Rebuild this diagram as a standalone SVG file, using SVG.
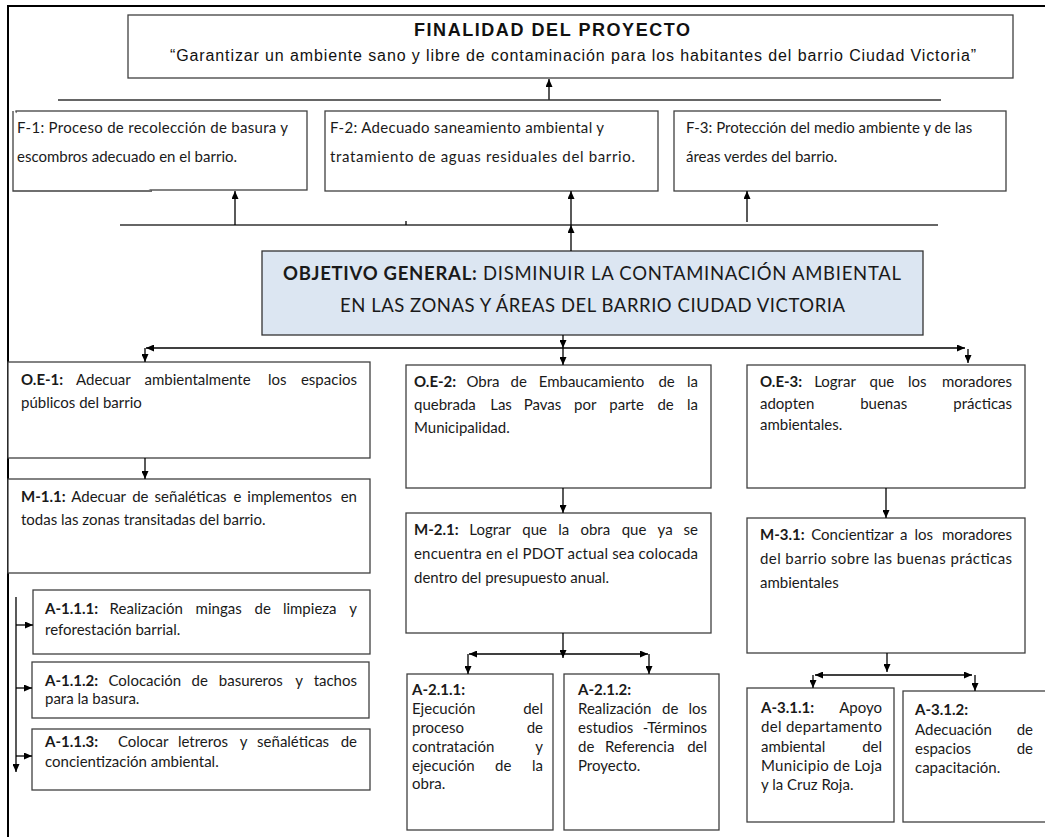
<svg xmlns="http://www.w3.org/2000/svg" width="1045" height="837" viewBox="0 0 1045 837">
<defs>
<style>
.box{fill:#fff;stroke:#404040;stroke-width:1.3}
.obj{fill:#dce6f2;stroke:#333;stroke-width:1.3}
.t{font-family:Lato,"Open Sans",sans-serif;font-size:15px;fill:#1a1a1a}
.a{font-family:"Liberation Sans",Arial,sans-serif;font-size:16px;fill:#111}
.b{font-weight:bold}
.e{text-anchor:end}
.c{stroke:#000;stroke-width:1.3;fill:none}
.bar{stroke:#333;stroke-width:1.6;fill:none}
</style>
<marker id="ah" viewBox="0 0 8 7" refX="8" refY="3.5" markerWidth="8" markerHeight="7" markerUnits="userSpaceOnUse" orient="auto"><path d="M0,0L8,3.5L0,7z" fill="#000"/></marker>
</defs>
<rect width="1045" height="837" fill="#fff"/>
<path d="M8,837V6H1045" stroke="#000" stroke-width="2" fill="none"/>

<g id="finalidad">
<rect class="box" x="128" y="15" width="885" height="63"/>
<text class="a b" x="552" y="36" text-anchor="middle" style="font-size:18px" textLength="276">FINALIDAD DEL PROYECTO</text>
<text class="a" x="573" y="61" text-anchor="middle" textLength="806">“Garantizar un ambiente sano y libre de contaminación para los habitantes del barrio Ciudad Victoria”</text>
</g>

<g id="f1">
<rect class="box" x="16" y="111" width="291" height="79"/>
<path d="M13,111V191H152" class="box" fill="none"/>
<text class="t" x="17" y="133" textLength="271">F-1: Proceso de recolección de basura y</text>
<text class="t" x="17" y="162">escombros adecuado en el barrio.</text>
</g>
<g id="f2">
<rect class="box" x="325" y="111" width="333" height="80"/>
<text class="t" x="330" y="133" textLength="274">F-2: Adecuado saneamiento ambiental y</text>
<text class="t" x="330" y="162" textLength="305">tratamiento de aguas residuales del barrio.</text>
</g>
<g id="f3">
<rect class="box" x="674" y="111" width="332" height="80"/>
<text class="t" x="686" y="133">F-3: Protección del medio ambiente y de las</text>
<text class="t" x="686" y="162">áreas verdes del barrio.</text>
</g>

<g id="objetivo">
<rect class="obj" x="262" y="251" width="661" height="84"/>
<text class="t" x="283" y="280" style="font-size:18.5px" textLength="618"><tspan class="b">OBJETIVO GENERAL:</tspan> DISMINUIR LA CONTAMINACIÓN AMBIENTAL</text>
<text class="t" x="340" y="312" style="font-size:18.5px" textLength="505">EN LAS ZONAS Y ÁREAS DEL BARRIO CIUDAD VICTORIA</text>
</g>

<g id="oe1">
<rect class="box" x="8" y="362" width="362" height="96"/>
<text class="t" y="385"><tspan class="b" x="21">O.E-1:</tspan><tspan x="76">Adecuar</tspan><tspan x="144.5">ambientalmente</tspan><tspan x="268">los</tspan><tspan class="e" x="357">espacios</tspan></text>
<text class="t" x="21" y="408">públicos del barrio</text>
</g>
<g id="m11">
<rect class="box" x="8" y="479" width="362" height="94"/>
<text class="t" y="502"><tspan class="b" x="21">M-1.1:</tspan><tspan x="71.3">Adecuar</tspan><tspan x="132.2">de</tspan><tspan x="154.6">señaléticas</tspan><tspan x="233.5">e</tspan><tspan x="247.3">implementos</tspan><tspan class="e" x="357">en</tspan></text>
<text class="t" x="21" y="525">todas las zonas transitadas del barrio.</text>
</g>

<g id="oe2">
<rect class="box" x="406" y="365" width="305" height="123"/>
<text class="t" y="387"><tspan class="b" x="414">O.E-2:</tspan><tspan x="466.5">Obra</tspan><tspan x="510.6">de</tspan><tspan x="538.7">Embaucamiento</tspan><tspan x="658.4">de</tspan><tspan class="e" x="698">la</tspan></text>
<text class="t" y="410"><tspan x="414">quebrada</tspan><tspan x="490.2">Las</tspan><tspan x="523.7">Pavas</tspan><tspan x="574">por</tspan><tspan x="609.3">parte</tspan><tspan x="657.4">de</tspan><tspan class="e" x="698">la</tspan></text>
<text class="t" x="414" y="433">Municipalidad.</text>
</g>
<g id="m21">
<rect class="box" x="406" y="513" width="305" height="120"/>
<text class="t" y="535"><tspan class="b" x="414">M-2.1:</tspan><tspan x="469.3">Lograr</tspan><tspan x="522.3">que</tspan><tspan x="558.2">la</tspan><tspan x="580.4">obra</tspan><tspan x="621.7">que</tspan><tspan x="657.6">ya</tspan><tspan class="e" x="698">se</tspan></text>
<text class="t" x="414" y="559" textLength="284">encuentra en el PDOT actual sea colocada</text>
<text class="t" x="414" y="583">dentro del presupuesto anual.</text>
</g>

<g id="oe3">
<rect class="box" x="747" y="365" width="278" height="123"/>
<text class="t" y="387"><tspan class="b" x="760">O.E-3:</tspan><tspan x="814.2">Lograr</tspan><tspan x="869.6">que</tspan><tspan x="907.9">los</tspan><tspan class="e" x="1012">moradores</tspan></text>
<text class="t" y="409"><tspan x="760">adopten</tspan><tspan x="860.2">buenas</tspan><tspan class="e" x="1012">prácticas</tspan></text>
<text class="t" x="760" y="430">ambientales.</text>
</g>
<g id="m31">
<rect class="box" x="747" y="518" width="278" height="135"/>
<text class="t" y="540"><tspan class="b" x="760">M-3.1:</tspan><tspan x="811.2">Concientizar</tspan><tspan x="900">a</tspan><tspan x="914.4">los</tspan><tspan class="e" x="1012">moradores</tspan></text>
<text class="t" x="760" y="564" textLength="252">del barrio sobre las buenas prácticas</text>
<text class="t" x="760" y="588">ambientales</text>
</g>

<g id="a111">
<rect class="box" x="33" y="590" width="337" height="64"/>
<text class="t" y="614"><tspan class="b" x="45">A-1.1.1:</tspan><tspan x="109.6">Realización</tspan><tspan x="195.6">mingas</tspan><tspan x="254.5">de</tspan><tspan x="282.9">limpieza</tspan><tspan class="e" x="357">y</tspan></text>
<text class="t" x="45" y="635">reforestación barrial.</text>
</g>
<g id="a112">
<rect class="box" x="32" y="662" width="337" height="56"/>
<text class="t" y="686"><tspan class="b" x="45">A-1.1.2:</tspan><tspan x="108.5">Colocación</tspan><tspan x="191.5">de</tspan><tspan x="218.8">basureros</tspan><tspan x="295.2">y</tspan><tspan class="e" x="357">tachos</tspan></text>
<text class="t" x="45" y="704">para la basura.</text>
</g>
<g id="a113">
<rect class="box" x="32" y="729" width="338" height="61"/>
<text class="t" y="747"><tspan class="b" x="45">A-1.1.3:</tspan><tspan x="117.9">Colocar</tspan><tspan x="177.9">letreros</tspan><tspan x="239.7">y</tspan><tspan x="257.1">señaléticas</tspan><tspan class="e" x="357">de</tspan></text>
<text class="t" x="45" y="767">concientización ambiental.</text>
</g>

<g id="a211">
<rect class="box" x="407" y="674" width="146" height="156"/>
<text class="t b" x="412" y="695">A-2.1.1:</text>
<text class="t" y="714"><tspan x="412">Ejecución</tspan><tspan class="e" x="543">del</tspan></text>
<text class="t" y="733"><tspan x="412">proceso</tspan><tspan class="e" x="543">de</tspan></text>
<text class="t" y="752"><tspan x="412">contratación</tspan><tspan class="e" x="543">y</tspan></text>
<text class="t" y="771"><tspan x="412">ejecución</tspan><tspan x="495">de</tspan><tspan class="e" x="543">la</tspan></text>
<text class="t" x="412" y="789">obra.</text>
</g>
<g id="a212">
<rect class="box" x="564" y="674" width="155" height="156"/>
<text class="t b" x="578" y="695">A-2.1.2:</text>
<text class="t" y="714"><tspan x="578">Realización</tspan><tspan x="662">de</tspan><tspan class="e" x="707">los</tspan></text>
<text class="t" y="733"><tspan x="578">estudios</tspan><tspan class="e" x="707">-Términos</tspan></text>
<text class="t" y="752"><tspan x="578">de</tspan><tspan x="605">Referencia</tspan><tspan class="e" x="707">del</tspan></text>
<text class="t" x="578" y="771">Proyecto.</text>
</g>

<g id="a311">
<rect class="box" x="747" y="688" width="147" height="134"/>
<text class="t" y="713"><tspan class="b" x="761">A-3.1.1:</tspan><tspan class="e" x="882">Apoyo</tspan></text>
<text class="t" x="761" y="732" textLength="121">del departamento</text>
<text class="t" y="752"><tspan x="761">ambiental</tspan><tspan class="e" x="882">del</tspan></text>
<text class="t" x="761" y="771" textLength="121">Municipio de Loja</text>
<text class="t" x="761" y="790">y la Cruz Roja.</text>
</g>
<g id="a312">
<rect class="box" x="903" y="691" width="160" height="131"/>
<text class="t b" x="915" y="715">A-3.1.2:</text>
<text class="t" y="735"><tspan x="915">Adecuación</tspan><tspan class="e" x="1033">de</tspan></text>
<text class="t" y="754"><tspan x="915">espacios</tspan><tspan class="e" x="1033">de</tspan></text>
<text class="t" x="915" y="773">capacitación.</text>
</g>

<g id="connectors">
<path class="c" d="M549,100V79" marker-end="url(#ah)"/>
<path class="bar" d="M58,100H941"/>
<path class="bar" d="M120,225H938"/>
<path class="c" d="M406,221V225"/>
<path class="c" d="M235,225V191" marker-end="url(#ah)"/>
<path class="c" d="M571,251V225" marker-end="url(#ah)"/>
<path class="c" d="M571,225V191" marker-end="url(#ah)"/>
<path class="c" d="M747,222V191" marker-end="url(#ah)"/>
<path class="c" d="M563,335V348" marker-end="url(#ah)"/>
<path class="c" d="M563,348V365" marker-end="url(#ah)"/>
<path class="c" d="M563,348H146" marker-end="url(#ah)"/>
<path class="c" d="M145,348V362" marker-end="url(#ah)"/>
<path class="c" d="M563,348H965" marker-end="url(#ah)"/>
<path class="c" d="M968,349V363" marker-end="url(#ah)"/>
<path class="c" d="M145,458V479" marker-end="url(#ah)"/>
<path class="c" d="M563,488V513" marker-end="url(#ah)"/>
<path class="c" d="M886,488V518" marker-end="url(#ah)"/>
<path class="c" d="M16,597V772" marker-end="url(#ah)"/>
<path class="c" d="M16,625H33" marker-end="url(#ah)"/>
<path class="c" d="M16,688H32" marker-end="url(#ah)"/>
<path class="c" d="M16,756H32" marker-end="url(#ah)"/>
<path class="c" d="M563,633V658" marker-end="url(#ah)"/>
<path class="c" d="M563,654H469" marker-end="url(#ah)"/>
<path class="c" d="M563,654H648" marker-end="url(#ah)"/>
<path class="c" d="M468,654V674" marker-end="url(#ah)"/>
<path class="c" d="M649,654V674" marker-end="url(#ah)"/>
<path class="c" d="M887,653V672" marker-end="url(#ah)"/>
<path class="c" d="M887,675H815" marker-end="url(#ah)"/>
<path class="c" d="M887,675H972" marker-end="url(#ah)"/>
<path class="c" d="M813,675V688" marker-end="url(#ah)"/>
<path class="c" d="M975,675V691" marker-end="url(#ah)"/>
</g>
</svg>
